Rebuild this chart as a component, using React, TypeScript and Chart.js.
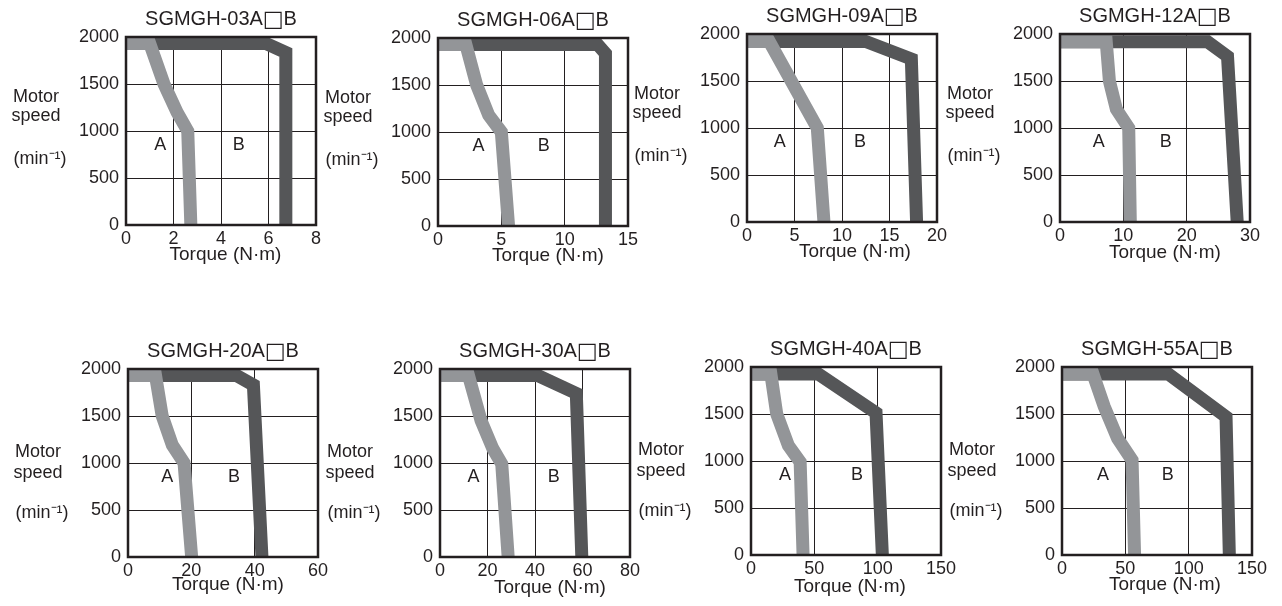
import React, { useEffect, useRef } from 'react';
import { Chart, registerables } from 'chart.js';

Chart.register(...registerables);

// ---------------- data ----------------
const MODEL_PREFIX = [
  'SGMGH-03A', 'SGMGH-06A', 'SGMGH-09A', 'SGMGH-12A',
  'SGMGH-20A', 'SGMGH-30A', 'SGMGH-40A', 'SGMGH-55A',
];
const MODEL_BOX = '□';
const MODEL_SUFFIX = 'B';
const TORQUE_MAX = [8, 15, 20, 30, 60, 80, 150, 150];
const TORQUE_STEP = [2, 5, 5, 10, 20, 20, 50, 50];
const SPEED_MAX = 2000;
const SPEED_STEP = 500;

// centre lines of zone A (continuous duty) : [torque N·m, speed min-1]
const zoneA03: number[][] = [[0, 1930], [1.0, 1930], [1.6, 1500], [2.15, 1200], [2.6, 1000], [2.73, 0]];
const zoneA06: number[][] = [[0, 1930], [2.2, 1930], [3.05, 1500], [4.0, 1180], [5.0, 1000], [5.57, 0]];
const zoneA09: number[][] = [[0, 1920], [2.35, 1920], [7.4, 1000], [8.1, 0]];
const zoneA12: number[][] = [[0, 1918], [7.3, 1918], [7.8, 1500], [8.9, 1200], [10.85, 1000], [11.1, 0]];
const zoneA20: number[][] = [[0, 1930], [8.7, 1930], [10.8, 1500], [14.0, 1190], [17.7, 1000], [20.1, 0]];
const zoneA30: number[][] = [[0, 1930], [12, 1930], [17.3, 1450], [22.3, 1150], [26.0, 990], [28.7, 0]];
const zoneA40: number[][] = [[0, 1925], [15.7, 1925], [20.3, 1500], [29.5, 1165], [38.8, 990], [41.1, 0]];
const zoneA55: number[][] = [[0, 1925], [24.5, 1925], [33.3, 1580], [43.9, 1240], [55.3, 1009], [57.3, 0]];

// centre lines of zone B (intermittent duty)
const zoneB03: number[][] = [[0, 1930], [5.9, 1930], [6.73, 1835], [6.73, 0]];
const zoneB06: number[][] = [[0, 1930], [12.6, 1930], [13.22, 1835], [13.22, 0]];
const zoneB09: number[][] = [[0, 1920], [12.5, 1920], [17.3, 1735], [17.85, 0]];
const zoneB12: number[][] = [[0, 1918], [23.3, 1918], [26.45, 1762], [27.98, 0]];
const zoneB20: number[][] = [[0, 1930], [34.3, 1930], [39.6, 1830], [42.3, 0]];
const zoneB30: number[][] = [[0, 1930], [41.2, 1930], [57.4, 1740], [59.7, 0]];
const zoneB40: number[][] = [[0, 1925], [53.2, 1925], [98.7, 1512], [103.7, 0]];
const zoneB55: number[][] = [[0, 1925], [84, 1925], [129.5, 1470], [132.1, 0]];

const ZONE_A = [zoneA03, zoneA06, zoneA09, zoneA12, zoneA20, zoneA30, zoneA40, zoneA55];
const ZONE_B = [zoneB03, zoneB06, zoneB09, zoneB12, zoneB20, zoneB30, zoneB40, zoneB55];

// where the zone letters sit (torque value), at LABEL_SPEED
const LABEL_A_TORQUE = [1.44, 3.19, 3.45, 6.1, 12.4, 14.1, 26.9, 32.3];
const LABEL_B_TORQUE = [4.75, 8.34, 11.9, 16.7, 33.5, 47.9, 83.6, 83.5];
const LABEL_SPEED = 850;

// ---------------- layout / style ----------------
const PLOT_ORIGIN = [
  [126, 37], [438, 38], [747, 34], [1060, 34],
  [128, 369], [440, 369], [751, 367], [1062, 367],
];
const PLOT_W = 190;
const PLOT_H = 188;
const AXIS_W = 126;
const PAD_TOP = 37;
const PAD_RIGHT = 22;
const AXIS_H = 45;
const CW = AXIS_W + PLOT_W + PAD_RIGHT;
const CH = PAD_TOP + PLOT_H + AXIS_H;

const TORQUE_DX = [4.5, 15, 13, 10, 5, 15, 4, 8];
const TORQUE_DY = [35, 35, 35, 36, 33, 36, 37, 35];
const ROW_LABEL_DY = [[65, 84, 127], [88, 109, 149]];

const INK = '#231f20';
const LIGHT = '#939598';
const DARK = '#555658';
const BAND_W = 13;
const FONT = '"Liberation Sans", Arial, Helvetica, sans-serif';
const BOX_FONT = '"DejaVu Sans", sans-serif';

const annotate = {
  id: 'annotate',
  afterDraw(chart: any, _args: any, opts: any) {
    const i = opts.idx as number;
    const { ctx, chartArea: a, scales } = chart;
    ctx.save();
    // frame
    ctx.strokeStyle = INK;
    ctx.lineWidth = 2.5;
    ctx.strokeRect(a.left, a.top, a.right - a.left, a.bottom - a.top);

    ctx.fillStyle = INK;
    ctx.textBaseline = 'alphabetic';
    const cx = (a.left + a.right) / 2;

    // title: prefix + box glyph + suffix, centred as one line
    const titleFont = `20px ${FONT}`;
    const boxFont = `22px ${BOX_FONT}`;
    ctx.font = titleFont;
    const w1 = ctx.measureText(MODEL_PREFIX[i]).width;
    const w3 = ctx.measureText(MODEL_SUFFIX).width;
    ctx.font = boxFont;
    const w2 = ctx.measureText(MODEL_BOX).width;
    let tx = cx - (w1 + w2 + w3) / 2;
    const ty = a.top - 12;
    ctx.textAlign = 'left';
    ctx.font = titleFont;
    ctx.fillText(MODEL_PREFIX[i], tx, ty);
    tx += w1;
    ctx.font = boxFont;
    ctx.fillText(MODEL_BOX, tx, ty + 1);
    tx += w2;
    ctx.font = titleFont;
    ctx.fillText(MODEL_SUFFIX, tx, ty);

    ctx.textAlign = 'center';
    // vertical axis caption
    const dy = ROW_LABEL_DY[i < 4 ? 0 : 1];
    ctx.font = `18px ${FONT}`;
    ctx.fillText('Motor', a.left - 90, a.top + dy[0]);
    ctx.fillText('speed', a.left - 90, a.top + dy[1]);
    ctx.fillText('(min⁻¹)', a.left - 86, a.top + dy[2]);

    // zone letters
    const ly = scales.y.getPixelForValue(LABEL_SPEED);
    ctx.textBaseline = 'middle';
    ctx.fillText('A', scales.x.getPixelForValue(LABEL_A_TORQUE[i]), ly);
    ctx.fillText('B', scales.x.getPixelForValue(LABEL_B_TORQUE[i]), ly);

    // horizontal axis caption
    ctx.textBaseline = 'alphabetic';
    ctx.font = `19px ${FONT}`;
    ctx.fillText('Torque (N·m)', cx + TORQUE_DX[i], a.bottom + TORQUE_DY[i]);
    ctx.restore();
  },
};

function buildConfig(i: number): any {
  const pts = (arr: number[][]) => arr.map(([x, y]) => ({ x, y }));
  const band = (label: string, arr: number[][], color: string, order: number) => ({
    label,
    data: pts(arr),
    borderColor: color,
    backgroundColor: color,
    borderWidth: BAND_W,
    borderJoinStyle: 'miter',
    borderCapStyle: 'butt',
    pointRadius: 0,
    pointHoverRadius: 0,
    tension: 0,
    fill: false,
    clip: 0,
    order,
  });
  const tickFont = { family: FONT, size: 18 };
  const plain = (v: any) => String(v);
  return {
    type: 'line',
    data: {
      datasets: [
        band('A', ZONE_A[i], LIGHT, 0),
        band('B', ZONE_B[i], DARK, 1),
      ],
    },
    options: {
      animation: false,
      responsive: false,
      devicePixelRatio: 1,
      events: [],
      layout: { padding: { top: PAD_TOP, right: PAD_RIGHT, left: 0, bottom: 0 } },
      plugins: {
        legend: { display: false },
        tooltip: { enabled: false },
        title: { display: false },
        annotate: { idx: i },
      },
      scales: {
        x: {
          type: 'linear',
          min: 0,
          max: TORQUE_MAX[i],
          z: 1,
          ticks: { stepSize: TORQUE_STEP[i], color: INK, font: tickFont, padding: 3, maxRotation: 0, autoSkip: false, callback: plain },
          grid: { color: INK, lineWidth: 1, drawTicks: false },
          border: { display: false },
          afterFit: (s: any) => { s.height = AXIS_H; },
        },
        y: {
          type: 'linear',
          min: 0,
          max: SPEED_MAX,
          z: 1,
          ticks: { stepSize: SPEED_STEP, color: INK, font: tickFont, padding: 7, autoSkip: false, callback: plain },
          grid: { color: INK, lineWidth: 1, drawTicks: false },
          border: { display: false },
          afterFit: (s: any) => { s.width = AXIS_W; },
        },
      },
    },
    plugins: [annotate],
  };
}

function SpeedTorqueChart({ idx }: { idx: number }) {
  const ref = useRef<HTMLCanvasElement | null>(null);
  useEffect(() => {
    if (!ref.current) return;
    const chart = new Chart(ref.current, buildConfig(idx));
    return () => chart.destroy();
  }, [idx]);
  const [px, py] = PLOT_ORIGIN[idx];
  return (
    <canvas
      ref={ref}
      width={CW}
      height={CH}
      style={{ position: 'absolute', left: px - AXIS_W, top: py - PAD_TOP, width: CW, height: CH }}
    />
  );
}

export default function App() {
  return (
    <div
      style={{
        position: 'absolute',
        left: 0,
        top: 0,
        width: 1282,
        height: 606,
        overflow: 'hidden',
        background: '#fff',
      }}
    >
      {MODEL_PREFIX.map((_, i) => (
        <SpeedTorqueChart key={i} idx={i} />
      ))}
    </div>
  );
}
